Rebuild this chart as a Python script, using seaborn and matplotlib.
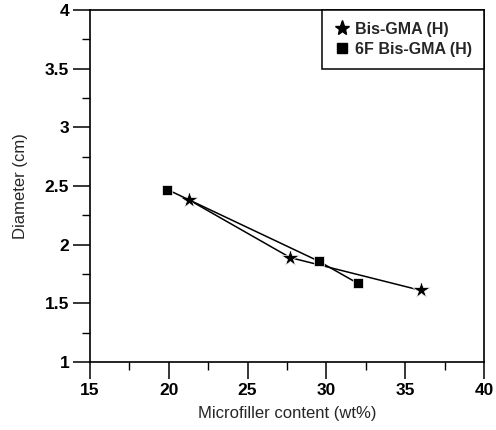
import numpy as np
import pandas as pd
import seaborn as sns
import matplotlib.pyplot as plt
from matplotlib.lines import Line2D
from matplotlib.ticker import MultipleLocator

# values
bis_gma_x = [21.3, 27.7, 36.0]
bis_gma_y = [2.38, 1.89, 1.61]
f6_bis_gma_x = [19.9, 29.5, 32.0]
f6_bis_gma_y = [2.47, 1.86, 1.67]
series_names = ["Bis-GMA (H)", "6F Bis-GMA (H)"]

df = pd.DataFrame({
    "x": bis_gma_x + f6_bis_gma_x,
    "y": bis_gma_y + f6_bis_gma_y,
    "series": [series_names[0]] * 3 + [series_names[1]] * 3,
})

sns.set_style("ticks")
plt.rcParams['font.family'] = ['Liberation Sans', 'DejaVu Sans']

fig = plt.figure(figsize=(4.96, 4.30), dpi=100)
ax = fig.add_axes([90 / 496, 68 / 430, 394 / 496, 352 / 430])

sns.lineplot(
    data=df, x="x", y="y", hue="series", style="series",
    markers={series_names[0]: "*", series_names[1]: "s"},
    dashes=False, sort=False, palette=["black", "black"],
    markersize=9, linewidth=1.1, markeredgewidth=0.5,
    legend=False, ax=ax,
)
# squares a bit smaller than stars
for line, ms in zip(ax.get_lines(), [13, 7]):
    line.set_markersize(ms)

ax.set_xlim(15, 40)
ax.set_ylim(1, 4)
ax.xaxis.set_major_locator(MultipleLocator(5))
ax.xaxis.set_minor_locator(MultipleLocator(2.5))
ax.yaxis.set_major_locator(MultipleLocator(0.5))
ax.yaxis.set_minor_locator(MultipleLocator(0.25))
ax.set_yticklabels([f"{v:g}" for v in ax.get_yticks()])

ax.tick_params(which="major", direction="out", length=12, width=1.1,
               labelsize=12.5, pad=3, color="black", labelcolor="black")
ax.tick_params(which="minor", direction="out", length=6, width=1.0, color="black")
for lbl in ax.get_xticklabels() + ax.get_yticklabels():
    lbl.set_fontweight("bold")
for sp in ax.spines.values():
    sp.set_linewidth(1.2)
    sp.set_color("black")

ax.set_xlabel("Microfiller content (wt%)", fontsize=12, labelpad=6)
ax.set_ylabel("Diameter (cm)", fontsize=12, labelpad=12)

handles = [
    Line2D([], [], color="black", marker="*", linestyle="none", markersize=11),
    Line2D([], [], color="black", marker="s", linestyle="none", markersize=7),
]
leg = ax.legend(handles, series_names, loc="upper right", borderaxespad=0,
                fancybox=False, framealpha=1, edgecolor="black",
                prop={"size": 11.5, "weight": "bold"}, handletextpad=0.3,
                handlelength=1.0, labelspacing=0.3, borderpad=0.75)
leg.get_frame().set_linewidth(1.1)

fig.savefig("out.png", dpi=100)
